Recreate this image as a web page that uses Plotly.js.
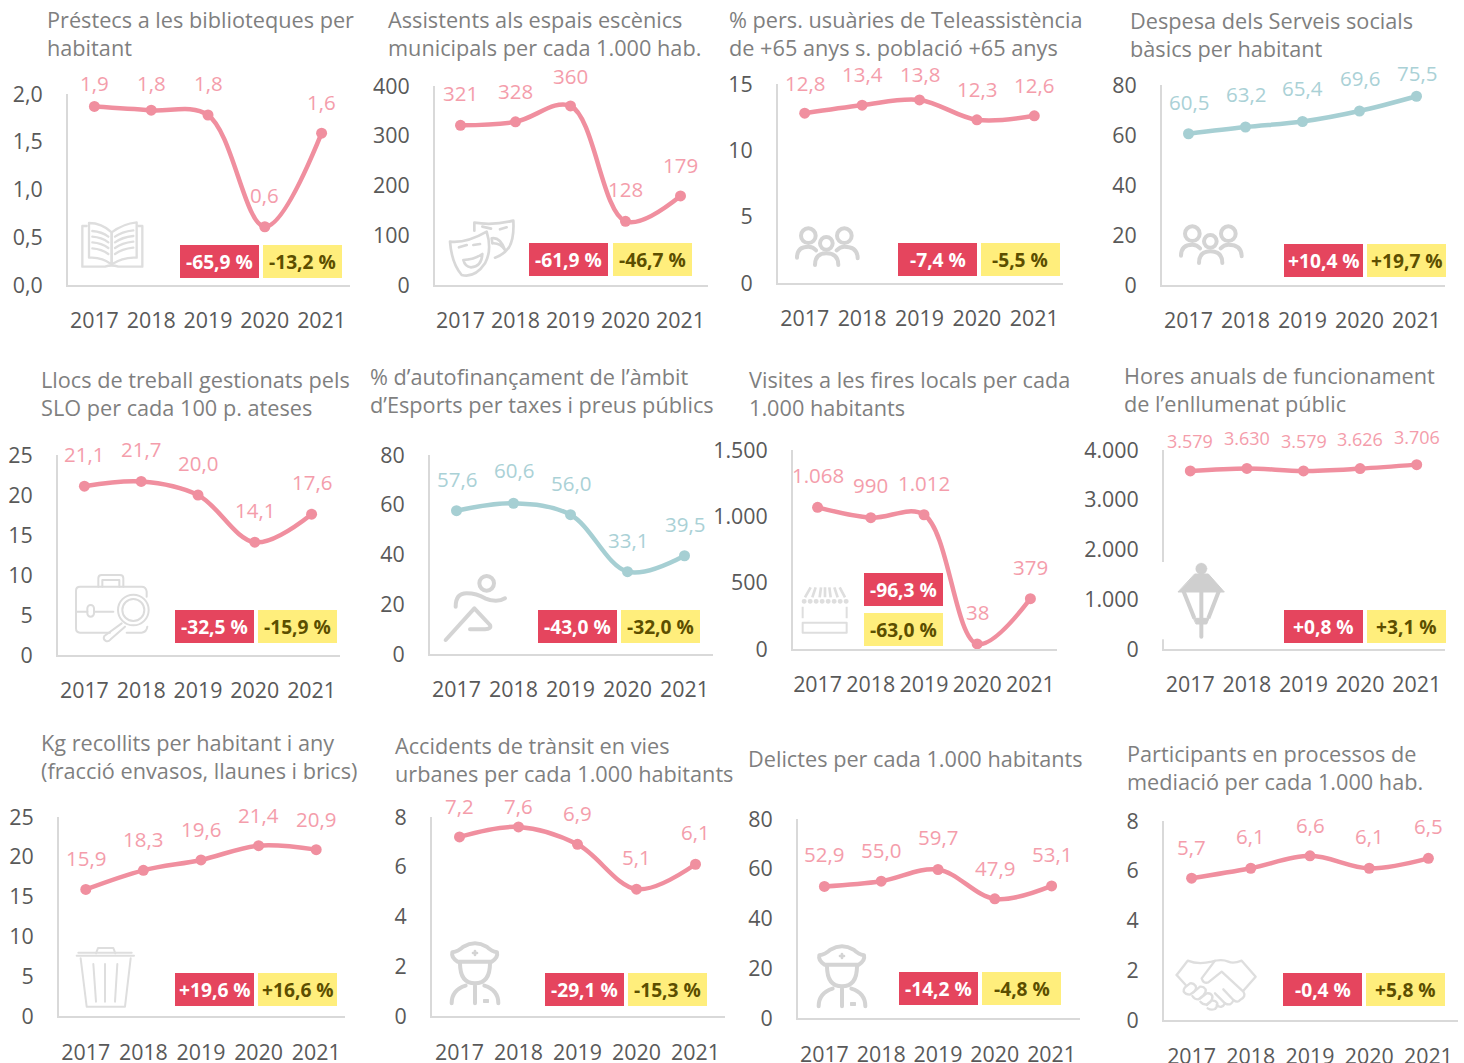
<!DOCTYPE html>
<html><head><meta charset="utf-8">
<script src="https://cdn.plot.ly/plotly-3.0.1.min.js"></script>
<style>html,body{margin:0;padding:0;background:#fff}#chart{width:1464px;height:1063px}</style>
</head><body><div id="chart"></div>
<script>
const W = 1464, H = 1063;
const years = ['2017','2018','2019','2020','2021'];

const titles = [
 'Préstecs a les biblioteques per<br>habitant',
 'Assistents als espais escènics<br>municipals per cada 1.000 hab.',
 '% pers. usuàries de Teleassistència<br>de +65 anys s. població +65 anys',
 'Despesa dels Serveis socials<br>bàsics per habitant',
 'Llocs de treball gestionats pels<br>SLO per cada 100 p. ateses',
 '% d’autofinançament de l’àmbit<br>d’Esports per taxes i preus públics',
 'Visites a les fires locals per cada<br>1.000 habitants',
 'Hores anuals de funcionament<br>de l’enllumenat públic',
 'Kg recollits per habitant i any<br>(fracció envasos, llaunes i brics)',
 'Accidents de trànsit en vies<br>urbanes per cada 1.000 habitants',
 'Delictes per cada 1.000 habitants',
 'Participants en processos de<br>mediació per cada 1.000 hab.'
];
const values1  = [1.87, 1.83, 1.78, 0.61, 1.59];
const values2  = [321, 328, 360, 128, 179];
const values3  = [12.8, 13.4, 13.8, 12.3, 12.6];
const values4  = [60.5, 63.2, 65.4, 69.6, 75.5];
const values5  = [21.1, 21.7, 20.0, 14.1, 17.6];
const values6  = [57.6, 60.6, 56.0, 33.1, 39.5];
const values7  = [1068, 990, 1012, 38, 379];
const values8  = [3579, 3630, 3579, 3626, 3706];
const values9  = [15.9, 18.3, 19.6, 21.4, 20.9];
const values10 = [7.2, 7.6, 6.9, 5.1, 6.1];
const values11 = [52.9, 55.0, 59.7, 47.9, 53.1];
const values12 = [5.7, 6.1, 6.6, 6.1, 6.5];
const allValues = [values1,values2,values3,values4,values5,values6,values7,values8,values9,values10,values11,values12];
const redBadges    = ['-65,9 %','-61,9 %','-7,4 %','+10,4 %','-32,5 %','-43,0 %','-96,3 %','+0,8 %','+19,6 %','-29,1 %','-14,2 %','-0,4 %'];
const yellowBadges = ['-13,2 %','-46,7 %','-5,5 %','+19,7 %','-15,9 %','-32,0 %','-63,0 %','+3,1 %','+16,6 %','-15,3 %','-4,8 %','+5,8 %'];
const yMax  = [2, 400, 15, 80, 25, 80, 1500, 4000, 25, 8, 80, 8];
const yStep = [0.5, 100, 5, 20, 5, 20, 500, 1000, 5, 2, 20, 2];
const decimals = [1,0,1,1,1,1,0,0,1,1,1,1];
const TEAL = '#A6CFD3', PINK = '#F08F9F';
const lineColors = [PINK,PINK,PINK,TEAL,PINK,TEAL,PINK,PINK,PINK,PINK,PINK,PINK];
const labelColors = lineColors.map(c => c === TEAL ? '#AAD1D6' : '#F49DAB');

// layout in pixels: left, right, top, bottom of each plot frame
const frames = [
 [66,350,94,286],[433,708,86,286],[776,1063,84,284],[1160,1445,85,286],
 [56,340,455,656],[428,713,455,655],[791,1057,450,650],[1162,1445,450,650],
 [57,345,817,1017],[430,725,817,1017],[796,1080,819,1019],[1162,1458,821,1021]
];
const xTickGap = [15,15,15,15,15,15,15,15,16,16,16,16];
const titlePos = [[46,4],[387,4],[728,4],[1129,5],[40,364],[369,361],[748,364],[1123,360],[40,727],[394,730],[747,743],[1126,738]];
const redPos = [[180,245],[529,243],[898,243],[1284,244],[175,610],[538,610],[864,573],[1284,610],[175,973],[545,973],[899,972],[1283,973]];
const yellowPos = [[263,245],[613,243],[981,243],[1367,244],[258,610],[621,610],[864,613],[1367,610],[258,973],[628,973],[982,972],[1366,973]];
const labelShift = [
 [23,27,32,32,31],[32,31,30,32,31],[30,31,26,31,31],[32,33,33,33,23],
 [32,32,32,32,32],[32,33,32,32,32],[32,33,32,32,32],[30,30,30,30,28],
 [31,31,31,31,31],[31,21,31,32,32],[32,31,33,31,32],[31,32,31,32,32]
];
const FONT = '"Open Sans", sans-serif';
const px = v => v / W, py = v => 1 - v / H;

const fmt = (v, d) => v.toLocaleString('de-DE', {minimumFractionDigits: d, maximumFractionDigits: d});

// ---- icons ----
function svgIcon(vw, vh, wpx, hpx, inner) {
  return 'data:image/svg+xml;charset=utf-8,' + encodeURIComponent(
   `<svg xmlns="http://www.w3.org/2000/svg" width="${wpx}" height="${hpx}" viewBox="0 0 ${vw} ${vh}" fill="none" stroke-linecap="round" stroke-linejoin="round">${inner}</svg>`);
}
const book = svgIcon(255,180,85,60,`<g stroke="#DEDEDE" stroke-width="7">
 <path d="M50 33H37V155H105Q125 148 145 155H217V33H205"/>
 <path d="M57 24Q95 24 125 52V148Q95 125 57 128Z"/><path d="M125 52Q160 26 200 22V128Q160 125 125 148Z"/>
 <path d="M67 48Q95 50 115 65M67 65Q95 67 115 82M67 82Q95 84 115 99M67 100Q95 102 115 117"/>
 <path d="M135 65Q155 50 190 46M135 82Q155 67 190 63M135 99Q155 84 190 80M135 117Q155 102 190 98"/></g>`);
const people = svgIcon(270,180,90,60,`<g stroke="#D4D4D4" stroke-width="12">
 <circle cx="70" cy="62" r="22"/><circle cx="178" cy="62" r="22"/><circle cx="124" cy="85" r="19"/>
 <path d="M36 128Q36 95 70 95Q84 95 93 106M218 130Q218 95 178 95Q165 95 155 106M90 150Q90 115 124 115Q160 115 160 150"/></g>`);
const masks = svgIcon(270,225,90,75,`<g stroke="#D8D8D8" stroke-width="8">
 <path d="M118 62V38Q175 47 235 32Q238 85 222 112Q205 135 180 143"/>
 <path d="M142 50L168 56M195 58L215 52M172 100Q195 98 210 120Q195 80 170 85Z"/>
 <path d="M45 95Q95 100 155 65Q172 120 150 160Q120 205 80 195Q50 160 45 95Z"/>
 <path d="M72 112L95 105M115 105L135 102M85 150Q115 150 142 132Q140 170 108 172Q90 170 85 150Z"/></g>`);
const runner = svgIcon(255,255,85,85,`<g stroke="#D4D4D4" stroke-width="12">
 <circle cx="155" cy="55" r="22"/><path d="M62 125Q62 85 95 85Q125 85 150 100Q185 115 210 100"/>
 <path d="M32 225L118 130L165 180Q170 192 150 193H105"/></g>`);
const shake = svgIcon(300,210,100,70,`<g stroke="#DEDEDE" stroke-width="7">
 <path d="M35 75L68 32Q100 45 140 35Q170 26 190 35Q205 42 230 32L272 80L235 122"/>
 <path d="M150 32L110 85Q115 102 130 97L170 65L235 125Q245 140 225 150Q218 160 205 150Q200 170 180 160Q170 178 155 165"/>
 <path d="M35 75L62 105M205 150L175 118M180 160L150 130"/>
 <path d="M60 112L75 100Q85 98 92 108Q96 118 85 127L74 134Q62 134 56 125Q55 118 60 112Z"/>
 <path d="M85 127L105 110Q115 108 122 118Q124 126 115 136L100 148Q88 148 82 138"/>
 <path d="M105 146L125 130Q137 128 142 138Q144 146 135 156L125 164Q112 164 106 155"/>
 <path d="M125 165L140 152Q152 150 157 160Q158 170 150 177Q138 182 128 175"/></g>`);
const lamp = svgIcon(255,315,85,105,`<rect x="10" y="36" width="25" height="232" fill="#fff"/>
 <g fill="#CFCFCF" stroke="#CFCFCF"><circle cx="139" cy="56" r="17"/>
 <path stroke-width="3" d="M120 72H160L208 126H70Z"/><path stroke-width="3" d="M116 205H162L155 222H124Z"/>
 <g fill="none" stroke-width="12"><path stroke-linecap="butt" d="M85 122L118 205M192 122L160 205M139 122V205"/><path stroke-width="12" d="M139 220V260"/></g></g>`);
const briefcase = svgIcon(270,225,90,75,`<g stroke="#DCDCDC" stroke-width="6">
 <path d="M120 188H30Q18 188 18 175V62Q18 50 30 50H215Q228 50 230 65V80M18 125H52M72 125H130"/>
 <rect x="52" y="105" width="20" height="35" rx="10"/>
 <path d="M85 50V25Q85 15 95 15H150Q160 15 160 25V50M97 50V30H148V50"/>
 <circle cx="190" cy="120" r="46" fill="#fff"/><circle cx="190" cy="120" r="33"/>
 <path d="M155 160L103 198Q98 208 108 213Q115 216 122 208L165 170M170 188H215Q230 186 232 170"/></g>`);
const market = svgIcon(180,180,60,60,`<g stroke="#DEDEDE">
 <path stroke-width="8" stroke-linecap="butt" d="M47 22L30 52M62 22L52 52M78 22L74 52M90 22V52M103 22L107 52M118 22L128 52M134 22L150 52"/>
 <path stroke-width="14" d="M27 64H28M45 64H46M63 64H64M81 64H82M99 64H100M117 64H118M135 64H136M153 64H154"/>
 <path stroke-width="6" stroke-linecap="butt" d="M23 80V115M155 80V115"/><rect stroke-width="6" x="23" y="128" width="132" height="30"/></g>`);
const bin = svgIcon(210,225,70,75,`<g stroke="#DEDEDE" stroke-width="6">
 <path d="M20 47H192M32 55L50 200H165L182 55M78 40L84 24H130L136 40"/><path d="M25 38H185"/>
 <path d="M70 72L78 185M105 72V185M142 72L135 185"/></g>`);
const police = svgIcon(195,225,65,75,`<g stroke="#D4D4D4" stroke-width="12">
 <path d="M38 80Q18 68 22 52Q40 50 55 35Q90 15 125 35Q140 50 156 52Q160 68 140 80H38Z"/>
 <path stroke-width="8" d="M90 48V60M84 54H96"/>
 <path d="M45 85Q45 145 90 145Q135 145 135 85M20 205Q20 165 62 152M160 205Q160 165 118 152M90 150V205"/>
 <rect x="116" y="194" width="14" height="8" fill="#D4D4D4" stroke-width="4"/></g>`);

const iconSpec = [
 [book,70,215,85,60],[masks,435,210,90,75],[people,785,215,90,60],[people,1169,213,90,60],
 [briefcase,70,570,90,75],[runner,435,565,85,85],[market,795,580,60,60],[lamp,1155,550,85,105],
 [bin,70,940,70,75],[police,445,935,65,75],[police,812,938,65,75],[shake,1165,950,100,70]
];

// ---- build ----
const data = [], shapes = [], annotations = [];
const layout = {
  width: W, height: H, margin: {l:0,r:0,t:0,b:0,pad:0}, showlegend: false,
  paper_bgcolor: '#fff', plot_bgcolor: 'rgba(0,0,0,0)', separators: ',.',
  font: {family: FONT, color: '#595959'}, hovermode: false,
  images: iconSpec.map(s => ({source: s[0], xref:'paper', yref:'paper', x: px(s[1]), y: py(s[2]),
     sizex: s[3]/W, sizey: s[4]/H, xanchor:'left', yanchor:'top', sizing:'stretch', layer:'above'}))
};

allValues.forEach((vals, i) => {
  const n = i + 1, xk = 'xaxis' + (n>1?n:''), yk = 'yaxis' + (n>1?n:'');
  const xa = 'x' + (n>1?n:''), ya = 'y' + (n>1?n:'');
  const [l, r, t, b] = frames[i];
  const band = (r - l) / 5;
  data.push({type:'scatter', mode:'lines+markers', x: years, y: vals, xaxis: xa, yaxis: ya,
    cliponaxis: false, line:{color: lineColors[i], width:4.5, shape:'spline', smoothing:1},
    marker:{color: lineColors[i], size:11}});
  // the axis lines sit just inside the frame, as in the source chart
  layout[xk] = {domain:[(l+2)/W, r/W], anchor: ya, type:'category', categoryorder:'array', categoryarray: years,
    range:[-0.5 + 2/band, 4.5], showgrid:false, zeroline:false, showline:true, linecolor:'#D9D9D9', linewidth:2,
    ticks:'outside', ticklen:xTickGap[i], tickcolor:'rgba(0,0,0,0)', tickangle:0, tickfont:{family:FONT,size:21.4,color:'#595959'}, fixedrange:true};
  layout[yk] = {domain:[1-(b-1)/H, 1-t/H], anchor: xa, range:[0, yMax[i]], tick0:0, dtick:yStep[i],
    tickformat: i===0 ? ',.1f' : ',d', showgrid:false, zeroline:false, showline:true, linecolor:'#D9D9D9', linewidth:2,
    ticks:'outside', ticklen:19, tickcolor:'rgba(0,0,0,0)', ticklabelshift:0.5, tickfont:{family:FONT,size:21.4,color:'#595959'}, fixedrange:true};
  annotations.push({xref:'paper', yref:'paper', x:px(titlePos[i][0]), y:py(titlePos[i][1]), xanchor:'left', yanchor:'top', align:'left',
    showarrow:false, text:titles[i], font:{family:FONT,size:21.7,color:'#7F7F7F'}, borderpad:0});
  vals.forEach((v, j) => annotations.push({xref:xa, yref:ya, x:j, y:v, showarrow:false, xanchor:'center', yanchor:'middle',
    yshift: labelShift[i][j], text: fmt(v, decimals[i]), font:{family:FONT,size: i===7 ? 18 : 20.5, color: labelColors[i]}}));
  [[redPos[i],'#E5455E',redBadges[i],'#FFFFFF'],[yellowPos[i],'#FFEE7C',yellowBadges[i],'#5C4E00']].forEach(([p,fill,txt,col]) => {
    shapes.push({type:'rect', xref:'paper', yref:'paper', x0:px(p[0]), x1:px(p[0]+79), y0:py(p[1]), y1:py(p[1]+33),
      fillcolor:fill, line:{width:0}, layer:'above'});
    annotations.push({xref:'paper', yref:'paper', x:px(p[0]+39.5), y:py(p[1]+16.5), xanchor:'center', yanchor:'middle', showarrow:false,
      text:txt, font:{family:FONT,size:19.2,color:col,weight:700}});
  });
});
layout.shapes = shapes; layout.annotations = annotations;
Plotly.newPlot('chart', data, layout, {displayModeBar:false, staticPlot:true});
</script></body></html>
